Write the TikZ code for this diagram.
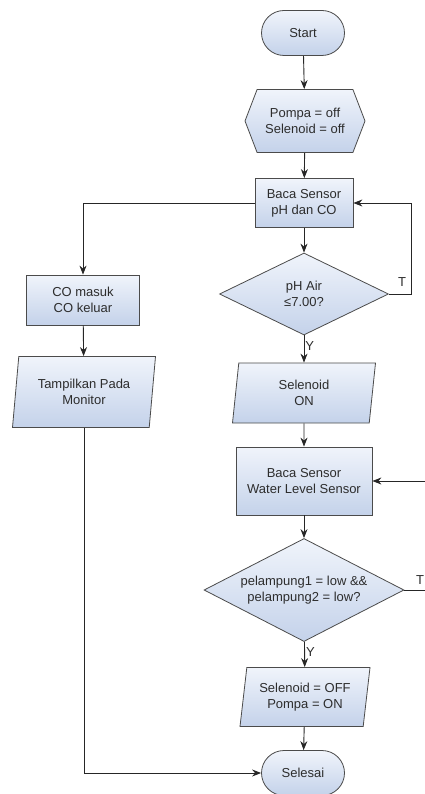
\documentclass[tikz,border=0pt]{standalone}
\usepackage{fontspec}
\setmainfont{Liberation Sans}
\usetikzlibrary{shapes.geometric,shapes.misc,shapes.symbols,arrows.meta}

\definecolor{boxtop}{RGB}{240,244,251}
\definecolor{boxbot}{RGB}{196,210,234}
\definecolor{bord}{RGB}{75,75,75}
\definecolor{txt}{RGB}{45,45,45}

\begin{document}
\begin{tikzpicture}[x=1pt,y=-1pt,
    font=\fontsize{13}{16}\selectfont, text=txt,
    base/.style={draw=bord, line width=0.8pt, top color=boxtop, bottom color=boxbot, align=center, inner sep=2pt},
    term/.style={base, rounded rectangle, minimum width=87pt, minimum height=45pt},
    proc/.style={base, rectangle},
    io/.style={base, trapezium, trapezium left angle=78, trapezium right angle=102, trapezium stretches body},
    cond/.style={base, diamond, aspect=2, inner sep=0pt},
    prep/.style={base, signal, signal to=west and east, signal pointer angle=138},
    arr/.style={-{Stealth[length=9pt,width=7pt]}, line width=0.9pt, draw=black!85},
    lbl/.style={inner sep=1pt}]

    % Cadre de l'image
    \useasboundingbox (0,0) rectangle (425,794);

    % Colonne principale
    \node[term] (start) at (303,33) {Start};
    \node[prep, minimum width=120pt, minimum height=63pt] (init) at (305,121) {Pompa = off\\Selenoid = off};
    \node[proc, minimum width=98pt, minimum height=49pt] (bacaA) at (304,203) {Baca Sensor\\pH dan CO};
    \node[cond, minimum width=169pt, minimum height=82pt] (cekph) at (304,294) {pH Air\\≤7.00?};
    \node[io, minimum width=143pt, minimum height=60pt] (selOn) at (304,393) {Selenoid\\ON};
    \node[proc, minimum width=136pt, minimum height=68pt] (bacaB) at (304,481) {Baca Sensor\\Water Level Sensor};
    \node[cond, minimum width=200pt, minimum height=103pt] (cekair) at (304,590) {pelampung1 = low \&\&\\pelampung2 = low?};
    \node[io, minimum width=130pt, minimum height=59pt] (selOff) at (305,697) {Selenoid = OFF\\Pompa = ON};
    \node[term] (selesai) at (303,773) {Selesai};

    % Colonne de gauche
    \node[proc, minimum width=113pt, minimum height=50pt] (co) at (83,300) {CO masuk\\CO keluar};
    \node[io, minimum width=143pt, minimum height=71pt] (tampil) at (84,392) {Tampilkan Pada\\Monitor};

    % Points libres
    \coordinate (balikA) at (411,203);
    \coordinate (masukB) at (425,481);
    \coordinate (keluarB) at (425,590);

    % Labels T
    \node[lbl] (tA) at (402,282) {T};
    \node[lbl] (tB) at (420,580) {T};

    % Fleches
    \draw[arr] (start) -- (init);
    \draw[arr] (init) -- (bacaA);
    \draw[arr] (bacaA) -- (cekph);
    \draw[arr] (cekph) -- node[lbl, right, pos=0.4] {Y} (selOn);
    \draw[arr] (cekph.east) -| (balikA) -- (bacaA.east);
    \draw[arr] (bacaA.west) -| (co.north);
    \draw[arr] (co) -- (tampil);
    \draw[arr] (tampil.south) |- (selesai.west);
    \draw[arr] (selOn) -- (bacaB);
    \draw[arr] (masukB) -- (bacaB.east);
    \draw[arr] (bacaB) -- (cekair);
    \draw[line width=0.9pt, draw=black!85] (cekair.east) -- (keluarB);
    \draw[arr] (cekair) -- node[lbl, right, pos=0.4] {Y} (selOff);
    \draw[arr] (selOff) -- (selesai);

\end{tikzpicture}
\end{document}
